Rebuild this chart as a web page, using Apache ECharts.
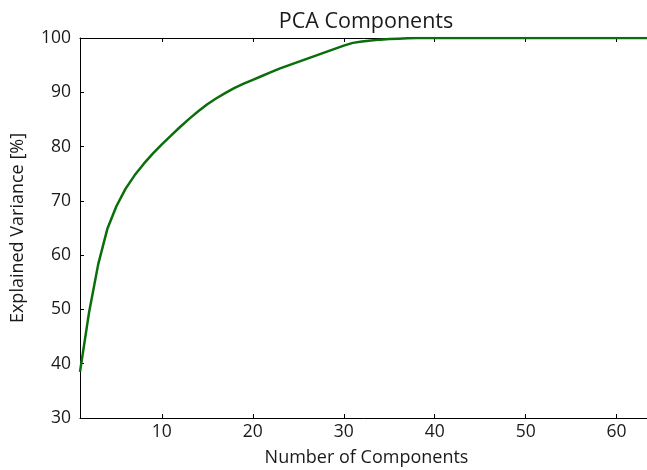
<!DOCTYPE html>
<html>
<head>
<meta charset="utf-8">
<script src="https://cdn.jsdelivr.net/npm/echarts@6/dist/echarts.min.js"></script>
<style>html,body{margin:0;padding:0;background:#fff;}#c{width:647px;height:470px;}</style>
</head>
<body>
<div id="c"></div>
<script>
const components = [];
for (let i = 1; i <= 64; i++) components.push(i);
const cumulativeVariance = [
  38.5, 49.5, 58.3, 64.8, 69.0, 72.2, 74.7, 76.8, 78.7, 80.4,
  82.0, 83.6, 85.1, 86.5, 87.8, 88.9, 89.9, 90.8, 91.6, 92.3,
  93.0, 93.7, 94.4, 95.0, 95.6, 96.2, 96.8, 97.4, 98.0, 98.6,
  99.1, 99.35, 99.55, 99.7, 99.8, 99.88, 99.95, 100, 100, 100,
  100, 100, 100, 100, 100, 100, 100, 100, 100, 100,
  100, 100, 100, 100, 100, 100, 100, 100, 100, 100,
  100, 100, 100, 100
];
const xTicks = [10, 20, 30, 40, 50, 60];
const yTicks = [30, 40, 50, 60, 70, 80, 90, 100];

const chart = echarts.init(document.getElementById('c'), null, {renderer: 'canvas'});
const font = 'Open Sans';
const txt = '#1a1a1a';
chart.setOption({
  animation: false,
  backgroundColor: '#fff',
  title: {
    text: 'PCA Components', left: 361, top: 6, textAlign: 'center',
    textStyle: {fontFamily: font, fontSize: 21.5, fontWeight: 'normal', color: txt}
  },
  grid: {left: 80, right: -6, top: 38, bottom: 52, containLabel: false, outerBoundsMode: 'none'},
  xAxis: [
    {
      type: 'value', min: 1, max: 64, position: 'bottom',
      name: 'Number of Components', nameLocation: 'middle', nameGap: 31,
      nameTextStyle: {fontFamily: font, fontSize: 18, color: txt},
      axisLine: {show: true, onZero: false, lineStyle: {color: '#000', width: 1}},
      axisLabel: {fontFamily: font, fontSize: 17.5, color: txt, margin: 5, customValues: xTicks},
      axisTick: {show: true, inside: true, length: 4, lineStyle: {color: '#000'}, customValues: xTicks},
      splitLine: {show: false}
    },
    {
      type: 'value', min: 1, max: 64, position: 'top',
      axisLine: {show: true, onZero: false, lineStyle: {color: '#000', width: 1}},
      axisTick: {show: true, inside: true, length: 4, lineStyle: {color: '#000'}, customValues: xTicks},
      axisLabel: {show: false}, splitLine: {show: false}
    }
  ],
  yAxis: [
    {
      type: 'value', min: 30, max: 100, interval: 10, position: 'left',
      name: 'Explained Variance [%]', nameLocation: 'middle', nameGap: 53, nameRotate: 90,
      nameTextStyle: {fontFamily: font, fontSize: 18, color: txt},
      axisLine: {show: true, onZero: false, lineStyle: {color: '#000', width: 1}},
      axisTick: {show: true, inside: true, length: 4, lineStyle: {color: '#000'}},
      axisLabel: {fontFamily: font, fontSize: 17.5, color: txt, margin: 9},
      splitLine: {show: false}
    },
    {
      type: 'value', min: 30, max: 100, interval: 10, position: 'right',
      axisLine: {show: true, onZero: false, lineStyle: {color: '#000', width: 1}},
      axisTick: {show: true, inside: true, length: 4, lineStyle: {color: '#000'}},
      axisLabel: {show: false}, splitLine: {show: false}
    }
  ],
  series: [{
    type: 'line',
    data: components.map((c, i) => [c, cumulativeVariance[i]]),
    showSymbol: false, smooth: false,
    lineStyle: {color: '#0a6e0a', width: 2.5},
    clip: true
  }]
});
</script>
</body>
</html>
